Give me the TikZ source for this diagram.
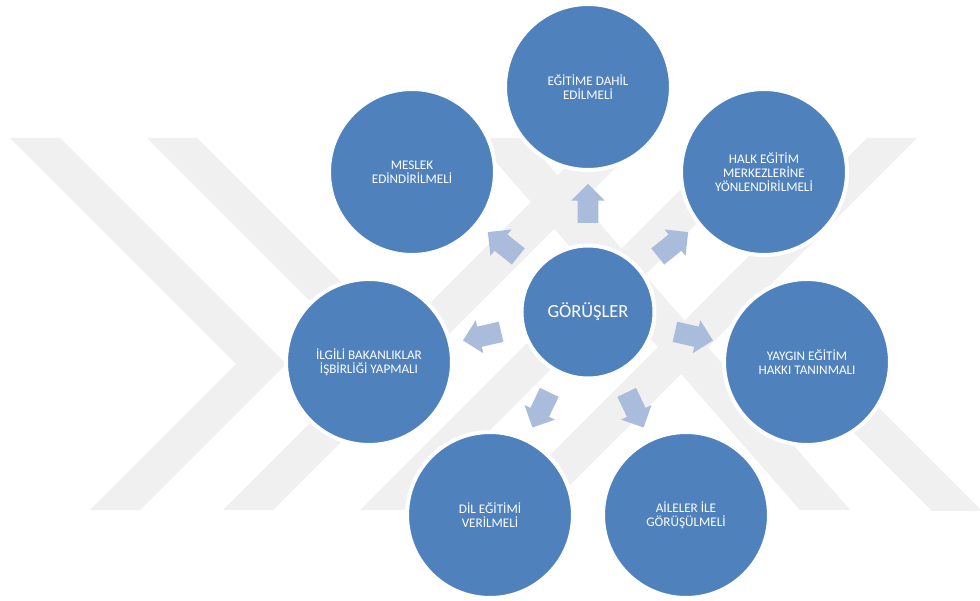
\documentclass[tikz,border=0pt]{standalone}
\usepackage{fontspec}
\setmainfont{Carlito}
\usetikzlibrary{shapes.arrows}
\definecolor{daire}{RGB}{79,129,189}
\definecolor{okrengi}{RGB}{169,188,219}
\definecolor{filigran}{RGB}{240,240,240}
\tikzstyle{gorus} = [circle, fill=daire, draw=white, line width=0.08cm, minimum size=3.32cm, inner sep=0pt, align=center, text=white, font=\fontsize{7.5}{8.1}\selectfont]
\tikzstyle{merkez} = [gorus, minimum size=2.66cm, font=\fontsize{10.5}{12}\selectfont]
\tikzstyle{ok} = [single arrow, fill=okrengi, draw=none, minimum height=0.78cm, minimum width=0.66cm, single arrow head extend=0.13cm, inner xsep=0pt, inner ysep=0.2cm]

\begin{document}
\begin{tikzpicture}[x=0.02cm, y=-0.02cm]
    \useasboundingbox (0,0) rectangle (980,601);
    \fill[white] (0,0) rectangle (980,601);

    % background watermark
    \begin{scope}
        \clip (0,138) rectangle (980,510);
        \fill[filigran] (10,138) -- (60,138) -- (286,364) -- (140,510) -- (90,510) -- (236,364) -- cycle;
        \fill[filigran] (147,138) -- (197,138) -- (421,362) -- (371,362) -- cycle;
        \fill[filigran] (595,138) -- (645,138) -- (273,510) -- (223,510) -- cycle;
        \fill[filigran] (732,138) -- (782,138) -- (410,510) -- (360,510) -- cycle;
        \fill[filigran] (867,138) -- (917,138) -- (545,510) -- (495,510) -- cycle;
        \fill[filigran] (475,138) -- (525,138) -- (850,510) -- (800,510) -- cycle;
        \fill[filigran] (713,292) -- (738,267) -- (982,511) -- (932,511) -- cycle;
    \end{scope}

    \node[merkez] (gorusler) at (588,312) {GÖRÜŞLER};

    \node[gorus] (egitime) at (588,87) {EĞİTİME DAHİL\\EDİLMELİ};
    \node[gorus] (halk) at (764,172) {HALK EĞİTİM\\MERKEZLERİNE\\YÖNLENDİRİLMELİ};
    \node[gorus] (yaygin) at (807,362) {YAYGIN EĞİTİM\\HAKKI TANINMALI};
    \node[gorus] (aileler) at (686,515) {AİLELER İLE\\GÖRÜŞÜLMELİ};
    \node[gorus] (dil) at (490,515) {DİL EĞİTİMİ\\VERİLMELİ};
    \node[gorus] (ilgili) at (369,362) {İLGİLİ BAKANLIKLAR\\İŞBİRLİĞİ YAPMALI};
    \node[gorus] (meslek) at (412,172) {MESLEK\\EDİNDİRİLMELİ};

    % arrows from the centre
    \node[ok, rotate=90] (ok1) at (588,208.5) {};
    \node[ok, rotate=38.57] (ok2) at (668.9,247.5) {};
    \node[ok, rotate=-12.86] (ok3) at (688.9,335) {};
    \node[ok, rotate=-64.29] (ok4) at (632.9,405.3) {};
    \node[ok, rotate=-115.71] (ok5) at (543.1,405.3) {};
    \node[ok, rotate=-167.14] (ok6) at (487.1,335) {};
    \node[ok, rotate=141.43] (ok7) at (507.1,247.5) {};
\end{tikzpicture}
\end{document}
